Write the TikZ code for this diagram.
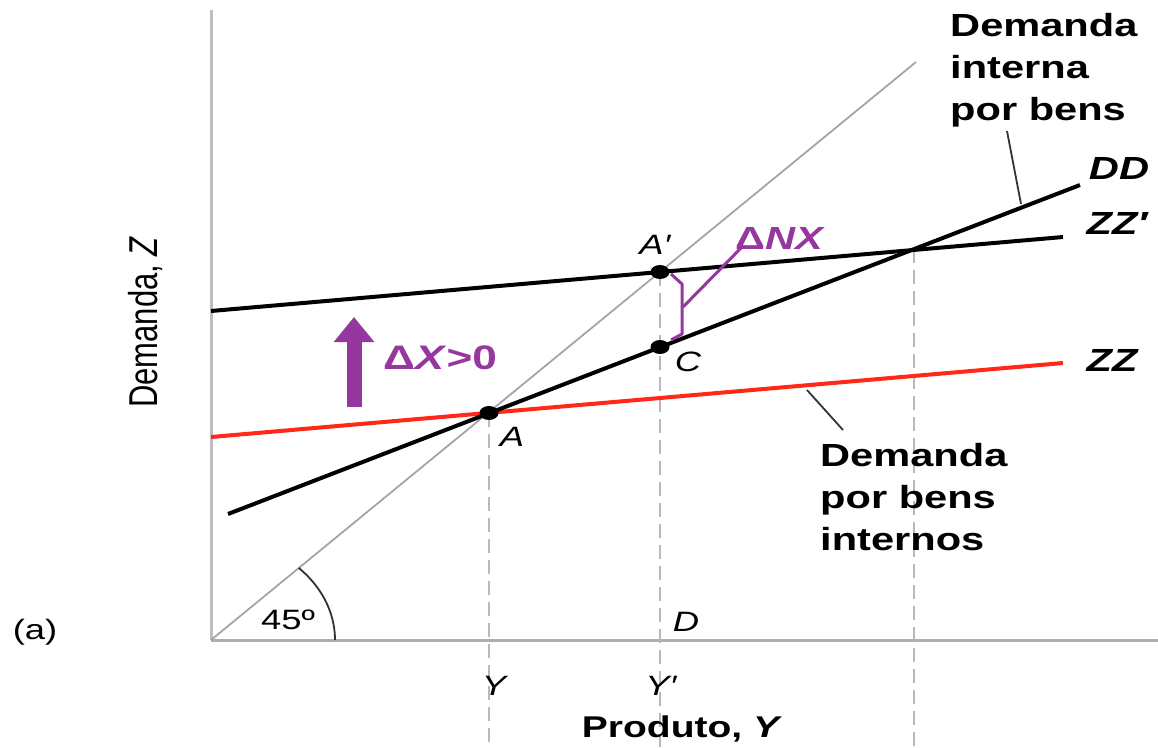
\documentclass[tikz,border=0pt]{standalone}
\usepackage{fontspec}
\setmainfont{Liberation Sans}
\newfontfamily\wf[FakeStretch=1.3]{Liberation Sans}
\usetikzlibrary{arrows.meta}
\definecolor{nxpurple}{RGB}{150,55,160}
\definecolor{zzred}{RGB}{255,40,25}
\definecolor{axisgray}{RGB}{190,190,190}
\definecolor{diaggray}{RGB}{165,165,165}
\definecolor{dashgray}{RGB}{185,185,185}
\definecolor{leadgray}{RGB}{50,50,50}
\begin{document}
\begin{tikzpicture}[x=1pt,y=-1pt,
  lbl/.style={inner sep=0pt, font=\wf\itshape\fontsize{28}{34}\selectfont},
  curvelbl/.style={inner sep=0pt, font=\wf\bfseries\itshape\fontsize{32}{38}\selectfont},
  note/.style={inner sep=0pt, align=left, anchor=north west, font=\wf\bfseries\fontsize{32}{42}\selectfont},
  plain/.style={inner sep=0pt, font=\wf\fontsize{28}{34}\selectfont},
  curve/.style={line width=4pt},
  axis/.style={line width=3pt, draw=axisgray},
  guide/.style={line width=2.5pt, draw=dashgray, dash pattern=on 14pt off 7pt},
  leader/.style={line width=1.8pt, draw=leadgray},
  nx/.style={line width=3pt, draw=nxpurple, line join=round}
]
\path[use as bounding box] (0,0) rectangle (1158,747);

% named points
\coordinate (O) at (211,640);
\coordinate (Ytop) at (211,10);
\coordinate (Xend) at (1158,640);
\coordinate (Dtop) at (916,62);
\coordinate (A) at (489,413);
\coordinate (Ap) at (660,272);
\coordinate (C) at (660,347);
\coordinate (I) at (914,249);
\coordinate (ZZs) at (211,437);
\coordinate (ZZe) at (1063,363);
\coordinate (ZZps) at (211,311);
\coordinate (ZZpe) at (1063,237);
\coordinate (DDs) at (228,514);
\coordinate (DDe) at (1080,185);
\coordinate (gA) at (489,747);
\coordinate (gAp) at (660,747);
\coordinate (gI) at (914,747);

% axes
\draw[axis] (Ytop) -- (O);
\draw[line width=3pt, draw=diaggray!90] (O) -- (Xend);
% 45 degree line
\draw[line width=1.8pt, draw=diaggray] (O) -- (Dtop);
% angle arc
\draw[line width=1.8pt, draw=leadgray] plot[domain=0:45, samples=30] ({211+124*cos(\x)},{640-102*sin(\x)});

% dashed guides
\draw[guide] (A) -- (gA);
\draw[guide] (Ap) -- (gAp);
\draw[guide] (I) -- (gI);

% curves
\draw[curve, draw=zzred] (ZZs) -- (ZZe);
\draw[curve] (ZZps) -- (ZZpe);
\draw[curve] (DDs) -- (DDe);

% dots
\fill (A) ellipse [x radius=9.5pt, y radius=7pt];
\fill (Ap) ellipse [x radius=9.5pt, y radius=7pt];
\fill (C) ellipse [x radius=9.5pt, y radius=7pt];

% Delta NX bracket
\coordinate (b1) at (671,274);
\coordinate (b2) at (682,284);
\coordinate (b3) at (682,334);
\coordinate (b4) at (671,340);
\coordinate (bm) at (683,307);
\node[inner sep=0pt, text=nxpurple, font=\wf\bfseries\fontsize{32}{38}\selectfont] (nxl) at (780,238) {Δ\textit{NX}};
\coordinate (bt) at (741,248);
\draw[nx] (b1) -- (b2) -- (b3) -- (b4);
\draw[nx] (bm) -- (bt);

% Delta X arrow
\coordinate (arB) at (354,407);
\coordinate (arT) at (354,317);
\draw[line width=15pt, draw=nxpurple, -{Triangle[width=39pt,length=25pt]}] (arB) -- (arT);
\node[inner sep=0pt, text=nxpurple, font=\wf\bfseries\fontsize{34}{40}\selectfont] (dx) at (440,358) {Δ\textit{X}>0};

% point labels
\node[lbl] (lA) at (512,437) {A};
\node[lbl] (lAp) at (655,245) {A′};
\node[lbl] (lC) at (688,362) {C};
\node[lbl] (lD) at (686,622) {D};
\node[lbl] (lY) at (494,686) {Y};
\node[lbl] (lYp) at (661,686) {Y′};
\node[plain] (l45) at (288,620) {45º};
\node[plain] (la) at (35,632) {(a)};

% curve labels
\node[curvelbl] (lDD) at (1119,168) {DD};
\node[curvelbl] (lZZp) at (1117,223) {ZZ′};
\node[curvelbl] (lZZ) at (1112,360) {ZZ};

% notes
\node[note] (n1) at (950,13) {Demanda\\interna\\por bens};
\coordinate (n1l) at (1007,131);
\coordinate (n1e) at (1021,204);
\draw[leader] (n1l) -- (n1e);
\node[note] (n2) at (820,443) {Demanda\\por bens\\internos};
\coordinate (n2s) at (807,390);
\coordinate (n2e) at (843,430);
\draw[leader] (n2s) -- (n2e);

% axis titles
\node[inner sep=0pt, font=\wf\bfseries\fontsize{30}{36}\selectfont] (xt) at (682,729) {Produto, \textit{Y}};
\node[inner sep=0pt, rotate=90, font=\fontsize{31}{38}\selectfont] (yt) at (145,322) {\scalebox{1}[1.3]{Demanda, \textit{Z}}};
\end{tikzpicture}
\end{document}
